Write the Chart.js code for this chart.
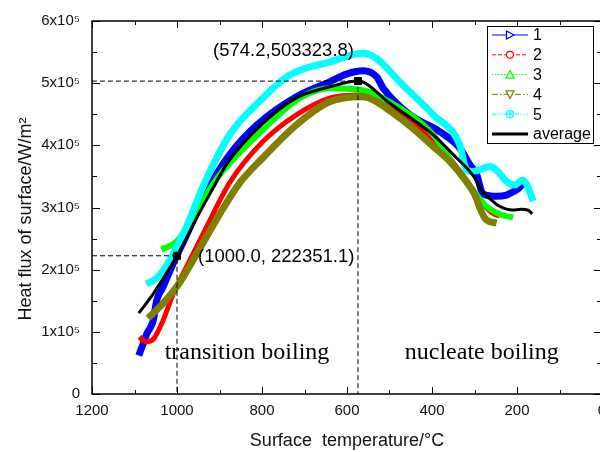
<!DOCTYPE html>
<html>
<head>
<meta charset="utf-8">
<script src="https://cdn.jsdelivr.net/npm/chart.js@4.4.0/dist/chart.umd.min.js"></script>
<style>
  html, body { margin: 0; padding: 0; background: #fff; overflow: hidden; }
  #wrap { width: 620px; height: 452px; }
</style>
</head>
<body>
<div id="wrap"><canvas id="chart" width="620" height="452"></canvas></div>
<script>
// --- data (temperature in °C, heat flux in W/m2) ---
let temps1 = [1090, 1080, 1071, 1056, 1048, 1033, 1009, 978, 931, 876, 813, 719, 641, 600, 562, 530, 515, 452, 382, 335, 311, 296, 280, 248, 225, 210, 194, 186];
let flux1 = [62000, 80000, 97000, 118000, 150000, 172000, 210000, 255000, 325000, 385000, 432000, 478000, 502000, 515000, 520000, 510000, 492000, 449000, 422000, 396000, 369000, 355000, 322000, 318000, 320000, 325000, 332000, 340000];

let temps2 = [1088, 1080, 1072, 1056, 1033, 1009, 978, 931, 876, 798, 719, 641, 566, 476, 397, 343, 300, 272, 260, 248, 241];
let flux2 = [92000, 86000, 84000, 88000, 118000, 161000, 204000, 268000, 340000, 406000, 449000, 476000, 481000, 452000, 410000, 366000, 325000, 300000, 292000, 288000, 286000];

let temps3 = [1037, 1020, 1000, 978, 931, 900, 798, 711, 641, 566, 476, 397, 343, 296, 272, 241, 209];
let flux3 = [233000, 237000, 246000, 265000, 320000, 352000, 425000, 476000, 492000, 489000, 460000, 417000, 362000, 321000, 302000, 289000, 284000];

let temps4 = [1068, 1041, 1001, 954, 900, 852, 798, 719, 641, 566, 476, 397, 358, 319, 296, 288, 272, 248];
let flux4 = [122000, 140000, 172000, 225000, 289000, 340000, 380000, 433000, 470000, 478000, 444000, 398000, 374000, 342000, 316000, 300000, 280000, 275000];

let temps5 = [1072, 1050, 1033, 1009, 978, 940, 876, 798, 735, 641, 562, 531, 476, 397, 335, 319, 305, 290, 264, 245, 225, 205, 188, 178, 170, 162];
let flux5 = [177000, 185000, 198000, 225000, 268000, 332000, 417000, 476000, 513000, 534000, 548000, 540000, 502000, 449000, 401000, 361000, 358000, 360000, 366000, 358000, 342000, 336000, 344000, 338000, 325000, 310000];

let tempsAvg = [1090, 1056, 1000, 950, 916, 884, 800, 720, 641, 574.2, 500, 450, 397, 350, 300, 288, 260, 241, 210, 190, 175, 164];
let fluxAvg = [130000, 161000, 222351.1, 288000, 330000, 369000, 434000, 476000, 494000, 503323.8, 468000, 444000, 417000, 385000, 348000, 332000, 312000, 302000, 296000, 297000, 296000, 290000];

let peakPoint = [574.2, 503323.8];
let markPoint = [1000.0, 222351.1];

let seriesNames = ['1', '2', '3', '4', '5', 'average'];
let seriesColors = ['#0000ff', '#ff0000', '#00ff00', '#808000', '#00ffff', '#000000'];

let xTicks = [0, 200, 400, 600, 800, 1000, 1200];
let yTicks = [0, 100000, 200000, 300000, 400000, 500000, 600000];

function toPoints(xs, ys) {
  return xs.map((x, i) => ({ x: x, y: ys[i] }));
}

function lineSet(label, xs, ys, color, width, order) {
  return {
    label: label,
    data: toPoints(xs, ys),
    showLine: true,
    borderColor: color,
    backgroundColor: color,
    borderWidth: width,
    pointRadius: 0,
    cubicInterpolationMode: 'monotone',
    order: order
  };
}

let datasets = [
  lineSet('1', temps1, flux1, seriesColors[0], 7, 6),
  lineSet('2', temps2, flux2, seriesColors[1], 5, 5),
  lineSet('3', temps3, flux3, seriesColors[2], 6, 4),
  lineSet('4', temps4, flux4, seriesColors[3], 7, 3),
  lineSet('5', temps5, flux5, seriesColors[4], 7, 2),
  lineSet('average', tempsAvg, fluxAvg, seriesColors[5], 3, 1),
  {
    label: 'peak guide',
    data: [{ x: 1200, y: peakPoint[1] }, { x: peakPoint[0], y: peakPoint[1] }, { x: peakPoint[0], y: 0 }],
    showLine: true, borderColor: '#000', borderWidth: 1, borderDash: [5, 3], pointRadius: 0, order: 0
  },
  {
    label: 'mark guide',
    data: [{ x: 1200, y: markPoint[1] }, { x: markPoint[0], y: markPoint[1] }, { x: markPoint[0], y: 0 }],
    showLine: true, borderColor: '#000', borderWidth: 1, borderDash: [5, 3], pointRadius: 0, order: 0
  },
  {
    label: 'marks',
    data: [{ x: peakPoint[0], y: peakPoint[1] }, { x: markPoint[0], y: markPoint[1] }],
    showLine: false, pointStyle: 'rect', pointRadius: 5, backgroundColor: '#000', borderColor: '#000', order: 0
  }
];

// legend marker shapes
function drawMarker(ctx, kind, x, y, color) {
  ctx.save();
  ctx.strokeStyle = color;
  ctx.fillStyle = '#fff';
  ctx.lineWidth = 1.2;
  ctx.setLineDash([]);
  ctx.beginPath();
  if (kind === 'right') {
    ctx.moveTo(x - 3.5, y - 4); ctx.lineTo(x + 4, y); ctx.lineTo(x - 3.5, y + 4); ctx.closePath();
  } else if (kind === 'circle') {
    ctx.arc(x, y, 3.5, 0, Math.PI * 2);
  } else if (kind === 'up') {
    ctx.moveTo(x - 4, y + 3.5); ctx.lineTo(x, y - 4); ctx.lineTo(x + 4, y + 3.5); ctx.closePath();
  } else if (kind === 'down') {
    ctx.moveTo(x - 4, y - 3.5); ctx.lineTo(x, y + 4); ctx.lineTo(x + 4, y - 3.5); ctx.closePath();
  } else if (kind === 'star') {
    ctx.arc(x, y, 3.5, 0, Math.PI * 2);
    ctx.fill(); ctx.stroke();
    ctx.beginPath();
    ctx.moveTo(x - 4, y); ctx.lineTo(x + 4, y);
    ctx.moveTo(x, y - 4); ctx.lineTo(x, y + 4);
  }
  ctx.fill();
  ctx.stroke();
  ctx.restore();
}

let overlay = {
  id: 'overlay',
  afterDraw(chart) {
    let ctx = chart.ctx;
    let area = chart.chartArea;
    let xs = chart.scales.x, ys = chart.scales.y;
    ctx.save();

    // frame
    ctx.strokeStyle = '#000';
    ctx.lineWidth = 1.5;
    ctx.strokeRect(area.left, area.top, area.right - area.left, area.bottom - area.top);

    // inward ticks on all sides
    ctx.lineWidth = 1;
    for (let t = 0; t <= 1200; t += 100) {
      let px = Math.round(xs.getPixelForValue(t)) + 0.5;
      let len = t % 200 === 0 ? 7 : 4;
      ctx.beginPath();
      ctx.moveTo(px, area.bottom); ctx.lineTo(px, area.bottom - len);
      ctx.moveTo(px, area.top); ctx.lineTo(px, area.top + len);
      ctx.stroke();
    }
    for (let q = 0; q <= 600000; q += 50000) {
      let py = Math.round(ys.getPixelForValue(q)) + 0.5;
      let len = q % 100000 === 0 ? 8 : 5;
      ctx.beginPath();
      ctx.moveTo(area.left, py); ctx.lineTo(area.left + len, py);
      ctx.moveTo(area.right, py); ctx.lineTo(area.right - len, py);
      ctx.stroke();
    }

    // y axis title (drawn here so it can sit a little below the centre, like the original)
    ctx.fillStyle = '#111';
    ctx.save();
    ctx.translate(26, 219);
    ctx.rotate(-Math.PI / 2);
    ctx.textAlign = 'center';
    ctx.textBaseline = 'middle';
    ctx.font = '18px "Liberation Sans", Arial, sans-serif';
    ctx.fillText('Heat flux of surface/W/m²', 0, 0);
    ctx.restore();

    // point labels
    ctx.fillStyle = '#000';
    ctx.textBaseline = 'middle';
    ctx.font = '18.5px "Liberation Sans", Arial, sans-serif';
    ctx.textAlign = 'right';
    ctx.fillText('(574.2,503323.8)', xs.getPixelForValue(peakPoint[0]) - 4, ys.getPixelForValue(peakPoint[1]) - 30);
    ctx.textAlign = 'left';
    ctx.fillText('(1000.0, 222351.1)', xs.getPixelForValue(markPoint[0]) + 21, ys.getPixelForValue(markPoint[1]) + 1);

    // region labels
    ctx.font = '24px "Liberation Serif", "Times New Roman", serif';
    ctx.fillText('transition boiling', xs.getPixelForValue(1029), ys.getPixelForValue(67000));
    ctx.fillText('nucleate boiling', xs.getPixelForValue(464), ys.getPixelForValue(67000));

    // legend
    let lx = 487.5, ly = 26.5, lw = 106, lh = 117;
    ctx.fillStyle = '#fff';
    ctx.fillRect(lx, ly, lw, lh);
    ctx.strokeStyle = '#000';
    ctx.lineWidth = 1;
    ctx.strokeRect(lx, ly, lw, lh);
    let dashes = [[], [4, 2], [1.5, 1.5], [6, 2, 1.5, 2], [4, 1.5, 1.5, 1.5, 1.5, 1.5], []];
    let marks = ['right', 'circle', 'up', 'down', 'star', null];
    ctx.font = '16px "Liberation Sans", Arial, sans-serif';
    seriesNames.forEach((name, i) => {
      let y = 35 + i * 19.8;
      ctx.strokeStyle = seriesColors[i];
      ctx.lineWidth = i === 5 ? 3 : 1;
      ctx.setLineDash(dashes[i]);
      ctx.beginPath();
      ctx.moveTo(492, y); ctx.lineTo(528, y);
      ctx.stroke();
      ctx.setLineDash([]);
      if (marks[i]) drawMarker(ctx, marks[i], 510, y, seriesColors[i]);
      ctx.fillStyle = '#000';
      ctx.textAlign = 'left';
      ctx.fillText(name, 533, y + 1);
    });
    ctx.restore();
  }
};

Chart.defaults.font.family = '"Liberation Sans", Arial, sans-serif';
Chart.defaults.color = '#111';

new Chart(document.getElementById('chart'), {
  type: 'scatter',
  data: { datasets: datasets },
  options: {
    responsive: false,
    animation: false,
    layout: { padding: { top: 18, right: 18, left: 0, bottom: 0 } },
    plugins: { legend: { display: false }, tooltip: { enabled: false } },
    scales: {
      x: {
        type: 'linear',
        reverse: true,
        min: 0,
        max: 1200,
        afterBuildTicks: (scale) => { scale.ticks = xTicks.map(v => ({ value: v })); },
        afterFit: (scale) => { scale.height = 58; },
        ticks: { font: { size: 15 }, padding: 8, maxRotation: 0, callback: (v) => String(v) },
        grid: { display: false, drawTicks: false },
        border: { display: false },
        title: { display: true, text: 'Surface  temperature/°C', font: { size: 18 }, padding: { top: 0, bottom: 0 } }
      },
      y: {
        type: 'linear',
        min: 0,
        max: 600000,
        afterBuildTicks: (scale) => { scale.ticks = yTicks.map(v => ({ value: v })); },
        afterFit: (scale) => { scale.width = 92; },
        ticks: { font: { size: 15 }, padding: 12, callback: (v) => v === 0 ? '0' : (v / 100000) + 'x10⁵' },
        grid: { display: false, drawTicks: false },
        border: { display: false },
        title: { display: false }
      }
    }
  },
  plugins: [overlay]
});
</script>
</body>
</html>
